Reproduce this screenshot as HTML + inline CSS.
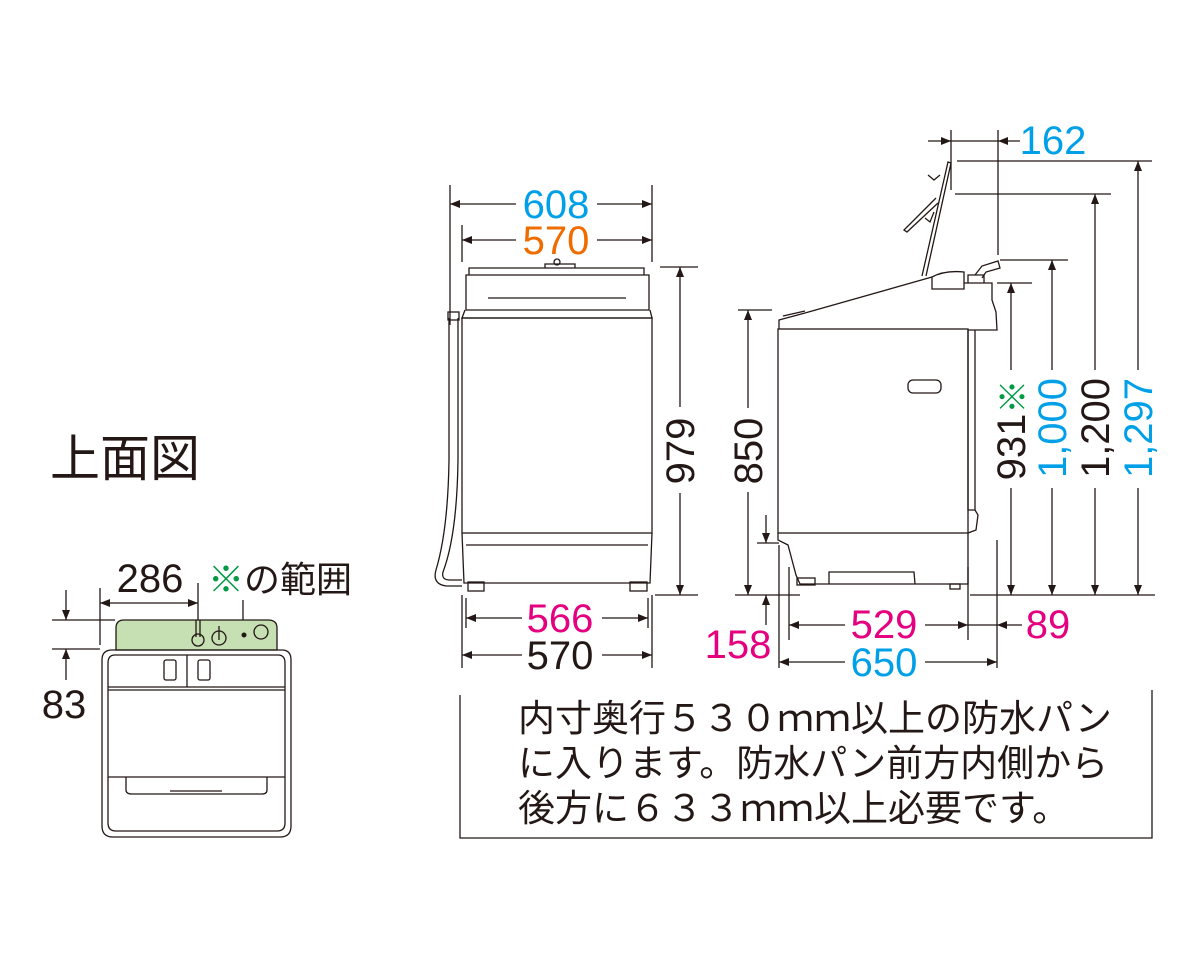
<!DOCTYPE html>
<html><head><meta charset="utf-8"><style>
html,body{margin:0;padding:0;background:#fff;}
svg{display:block;}
text{font-family:"Liberation Sans","Noto Sans CJK JP",sans-serif;}
</style></head><body>
<svg width="1200" height="960" viewBox="0 0 1200 960" xmlns="http://www.w3.org/2000/svg">
<defs>
<marker id="a" viewBox="0 0 10 10" refX="10" refY="5" markerWidth="14" markerHeight="10" markerUnits="userSpaceOnUse" orient="auto-start-reverse"><path d="M0,1 L10,5 L0,9 z" fill="#231815"/></marker>
</defs>
<g stroke="#231815" stroke-width="1.3" fill="none">
<line x1="450" y1="185" x2="450" y2="325"/>
<line x1="652" y1="185" x2="652" y2="262"/>
<line x1="462" y1="225" x2="462" y2="262"/>
<line x1="660" y1="267" x2="698" y2="267"/>
<line x1="655" y1="595" x2="698" y2="595"/>
<line x1="462" y1="595" x2="462" y2="668"/>
<line x1="652" y1="595" x2="652" y2="668"/>
<line x1="466" y1="598" x2="466" y2="628"/>
<line x1="648" y1="598" x2="648" y2="628"/>
<line x1="450" y1="204" x2="516" y2="204" marker-start="url(#a)"/><line x1="597" y1="204" x2="652" y2="204" marker-end="url(#a)"/>
<line x1="462" y1="240" x2="516" y2="240" marker-start="url(#a)"/><line x1="597" y1="240" x2="652" y2="240" marker-end="url(#a)"/>
<line x1="680" y1="267" x2="680" y2="407" marker-start="url(#a)"/><line x1="680" y1="493" x2="680" y2="595" marker-end="url(#a)"/>
<line x1="466" y1="618" x2="522" y2="618" marker-start="url(#a)"/><line x1="602" y1="618" x2="648" y2="618" marker-end="url(#a)"/>
<line x1="462" y1="655" x2="522" y2="655" marker-start="url(#a)"/><line x1="602" y1="655" x2="652" y2="655" marker-end="url(#a)"/>
<path d="M469,275 L469,268 L644,268 L644,275"/>
<path d="M466,310 L466,275 L649,275 L649,310 Z"/>
<line x1="488" y1="298" x2="626" y2="298"/>
<path d="M465,310 L462,318 L652,318 L650,310"/>
<rect x="462" y="318" width="190" height="215"/>
<path d="M462,533 L464,583 L650,583 L652,533"/>
<line x1="466" y1="545" x2="648" y2="545"/>
<rect x="468" y="582" width="16" height="9"/><rect x="630" y="582" width="17" height="9"/>
<path d="M545,268 L545,264 L575,264 L575,268"/><circle cx="557" cy="262" r="3"/>
<path d="M449,318 L449,460 Q448,530 436,570 Q432,584 446,586 L462,586"/>
<path d="M458,318 L458,460 Q457,535 443,572 Q441,580 450,580 L462,580"/>
<rect x="448" y="312" width="11" height="8"/>
<line x1="738" y1="310" x2="772" y2="310"/>
<line x1="735" y1="595" x2="800" y2="595"/>
<line x1="970" y1="595" x2="1155" y2="595"/>
<line x1="757" y1="543" x2="779" y2="543"/>
<line x1="748" y1="310" x2="748" y2="408" marker-start="url(#a)"/><line x1="748" y1="492" x2="748" y2="595" marker-end="url(#a)"/>
<line x1="766" y1="515" x2="766" y2="543" marker-end="url(#a)"/><line x1="766" y1="595" x2="766" y2="625" marker-start="url(#a)"/>
<line x1="779" y1="545" x2="779" y2="668"/>
<line x1="789" y1="567" x2="789" y2="640"/>
<line x1="968" y1="567" x2="968" y2="640"/>
<line x1="997" y1="540" x2="997" y2="668"/>
<line x1="789" y1="625" x2="845" y2="625" marker-start="url(#a)"/><line x1="925" y1="625" x2="968" y2="625" marker-end="url(#a)"/>
<line x1="1022" y1="625" x2="997" y2="625" marker-end="url(#a)"/><line x1="968" y1="625" x2="997" y2="625"/>
<line x1="779" y1="662" x2="845" y2="662" marker-start="url(#a)"/><line x1="925" y1="662" x2="997" y2="662" marker-end="url(#a)"/>
<line x1="997" y1="283" x2="1032" y2="283"/>
<line x1="1000" y1="260" x2="1068" y2="260"/>
<line x1="955" y1="194" x2="1111" y2="194"/>
<line x1="957" y1="161" x2="1152" y2="161"/>
<line x1="951" y1="130" x2="951" y2="190"/>
<line x1="998" y1="130" x2="998" y2="255"/>
<line x1="928" y1="141" x2="951" y2="141" marker-end="url(#a)"/><line x1="951" y1="141" x2="998" y2="141"/><line x1="1020" y1="141" x2="998" y2="141" marker-end="url(#a)"/>
<line x1="1011" y1="283" x2="1011" y2="370" marker-start="url(#a)"/><line x1="1011" y1="488" x2="1011" y2="595" marker-end="url(#a)"/>
<line x1="1052" y1="260" x2="1052" y2="370" marker-start="url(#a)"/><line x1="1052" y1="488" x2="1052" y2="595" marker-end="url(#a)"/>
<line x1="1095" y1="194" x2="1095" y2="370" marker-start="url(#a)"/><line x1="1095" y1="488" x2="1095" y2="595" marker-end="url(#a)"/>
<line x1="1138" y1="161" x2="1138" y2="370" marker-start="url(#a)"/><line x1="1138" y1="488" x2="1138" y2="595" marker-end="url(#a)"/>
<path d="M779,329 L779,320 L805,313 L932,277"/>
<line x1="783" y1="316" x2="805" y2="311"/>
<rect x="778" y="329" width="190" height="204"/>
<path d="M932,289 L932,277 Q945,270 964,272 L964,289 Z"/>
<path d="M964,283 L992,283 L992,300 L996,312 L997,330 L968,330"/>
<path d="M968,330 L968,510 L975,510 L975,330"/>
<path d="M975,510 L978,515 L976,530 L968,533"/>
<rect x="908" y="380" width="33" height="13" rx="5"/>
<path d="M778,533 L778,540 L788,545 L796,575 L800,584 L968,584 L968,533"/>
<rect x="797" y="578" width="18" height="7"/>
<path d="M829,584 L829,572 L914,572 L915,584"/>
<rect x="950" y="584" width="10" height="5"/>
<path d="M922,276 L948,162 L951,163 L926,276"/>
<path d="M936,198 L904,230 L907,232 L938,203"/>
<path d="M928,175 L934,180 L940,175"/>
<path d="M925,218 L930,222 L934,212"/>
<path d="M968,283 L968,275 L984,275 L984,283"/>
<path d="M975,275 L982,266 L998,261 L1000,268 L986,272 L982,278"/>
<path d="M460,695 L460,838 L1152,838 L1152,690"/>
<line x1="100" y1="588" x2="100" y2="645"/>
<line x1="198" y1="583" x2="198" y2="628"/>
<line x1="100" y1="603" x2="198" y2="603" marker-start="url(#a)" marker-end="url(#a)"/>
<line x1="52" y1="620" x2="115" y2="620"/>
<line x1="52" y1="649" x2="100" y2="649"/>
<line x1="66" y1="590" x2="66" y2="620" marker-end="url(#a)"/>
<line x1="66" y1="680" x2="66" y2="649" marker-end="url(#a)"/>
<line x1="243" y1="600" x2="243" y2="632"/>
</g>
<path d="M116,650 L116,628 Q116,620 124,620 L268,620 Q277,620 277,628 L277,650 Z" fill="#c6e0b4" stroke="#231815" stroke-width="1.3"/>
<g stroke="#231815" stroke-width="1.3" fill="none">
<path d="M102,660 Q102,650 112,650 L282,650 Q291,650 291,660 L291,826 Q291,837 280,837 L113,837 Q102,837 102,826 Z"/>
<path d="M108,663 Q108,655 115,655 L278,655 Q285,655 285,663 L285,823 Q285,831 277,831 L116,831 Q108,831 108,823 Z"/>
<line x1="108" y1="687" x2="285" y2="687"/>
<line x1="108" y1="690" x2="285" y2="690"/>
<line x1="187" y1="655" x2="187" y2="687"/>
<rect x="164" y="660" width="12" height="20" rx="2"/>
<rect x="198" y="660" width="12" height="20" rx="2"/>
<line x1="108" y1="777" x2="285" y2="777"/>
<path d="M126,777 L126,790 Q126,794 132,794 L262,794 Q267,794 267,790 L267,777"/>
<line x1="170" y1="791" x2="222" y2="791"/>
<path d="M196,620 L196,637 M200,620 L200,637"/>
<circle cx="198" cy="640" r="6"/>
<circle cx="219" cy="638" r="7"/><line x1="219" y1="626" x2="219" y2="640"/>
<circle cx="261" cy="632" r="7"/>
</g>
<circle cx="244" cy="635" r="2.5" fill="#231815"/>
<g font-size="40" text-anchor="middle">
<text x="556" y="218" fill="#00a0e9">608</text>
<text x="556" y="254" fill="#ef6c00">570</text>
<text x="560" y="632" fill="#e4007f">566</text>
<text x="560" y="669" fill="#231815">570</text>
<text x="884" y="638" fill="#e4007f">529</text>
<text x="884" y="676" fill="#00a0e9">650</text>
<text x="1048" y="638" fill="#e4007f">89</text>
<text x="738" y="658" fill="#e4007f">158</text>
<text x="1053" y="154" fill="#00a0e9">162</text>
<text x="150" y="592" fill="#231815">286</text>
<text x="64" y="718" fill="#231815">83</text>
<text transform="translate(694,451) rotate(-90)" fill="#231815">979</text>
<text transform="translate(762,451) rotate(-90)" fill="#231815">850</text>
<text transform="translate(1025,430) rotate(-90)"><tspan fill="#231815">931</tspan><tspan fill="#009944" font-size="34">※</tspan></text>
<text transform="translate(1066,428) rotate(-90)" fill="#00a0e9">1,000</text>
<text transform="translate(1109,428) rotate(-90)" fill="#231815">1,200</text>
<text transform="translate(1152,428) rotate(-90)" fill="#00a0e9">1,297</text>
</g>
<text x="208" y="592" font-size="36" fill="#231815"><tspan fill="#009944">※</tspan>の範囲</text>
<text x="50" y="476" font-size="50" fill="#231815">上面図</text>
<g font-size="37" fill="#231815">
<text x="518" y="731">内寸奥行５３０ｍｍ以上の防水パン</text>
<text x="518" y="776">に入ります。防水パン前方内側から</text>
<text x="518" y="821">後方に６３３ｍｍ以上必要です。</text>
</g>
</svg>
</body></html>
